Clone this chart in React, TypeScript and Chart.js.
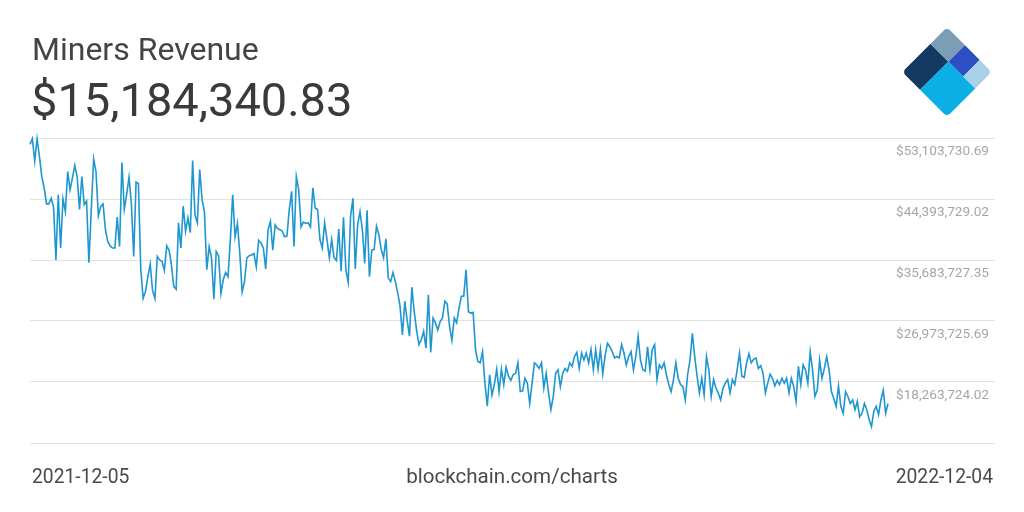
import React, { useEffect, useRef } from "react";
import { Chart, registerables } from "chart.js";

Chart.register(...registerables);

const TITLE = "Miners Revenue";
const CURRENT_VALUE = "$15,184,340.83";
const START_DATE = "2021-12-05";
const END_DATE = "2022-12-04";
const SOURCE = "blockchain.com/charts";

// Gridline values (USD); the lowest one carries no label
const Y_TICKS = [9553722.35, 18263724.02, 26973725.69, 35683727.35, 44393729.02, 53103730.69];

// Daily miners revenue, millions of USD, 2021-12-05 .. 2022-12-04 (365 days)
const REVENUE_M = [
  52.2, 53.0, 49.8, 53.0, 50.5, 47.6, 46.0, 43.7, 43.7, 44.5, 43.2, 35.7, 45.0, 37.4, 44.4, 42.6, 48.3, 45.7, 47.4, 49.2,
  47.6, 42.9, 47.6, 43.6, 44.1, 35.3, 42.9, 50.1, 48.3, 42.0, 43.3, 43.7, 40.0, 38.3, 37.7,
  37.4, 37.4, 41.8, 37.6, 49.6, 42.9, 45.0, 47.5, 43.8, 36.2, 46.8, 46.6, 34.3, 30.2, 31.2, 33.3, 35.1, 31.3, 30.2, 36.2,
  35.7, 35.5, 34.2, 37.7, 37.1, 35.0, 31.9, 31.5, 41.0, 37.4, 43.4, 39.8, 41.7, 39.6, 49.9, 42.1, 41.0,
  48.6, 44.3, 42.6, 34.3, 37.6, 36.0, 30.1, 36.9, 36.3, 30.9, 32.9, 33.9, 33.3, 38.6, 45.0, 39.0, 40.9, 36.7, 31.1, 32.6,
  36.0, 36.3, 36.4, 36.6, 34.7, 38.5, 38.1, 37.4, 34.4, 40.0, 41.2, 37.1, 40.7, 40.2, 40.0, 39.8, 39.0, 39.1,
  42.9, 45.5, 37.6, 47.6, 45.7, 40.4, 41.1, 40.9, 41.0, 40.4, 46.0, 43.1, 42.9, 38.6, 37.4, 41.0, 38.6, 36.0, 38.6, 36.0,
  35.6, 40.1, 34.1, 41.8, 34.3, 32.5, 41.9, 44.5, 34.4, 40.7, 42.6, 40.0, 35.2, 42.8, 33.3, 37.1, 37.2,
  40.5, 39.3, 37.2, 36.0, 38.7, 33.1, 32.6, 33.9, 32.6, 31.0, 29.1, 25.0, 29.8, 27.1, 24.8, 31.8, 28.3, 25.7, 23.6, 24.3,
  25.5, 23.1, 30.7, 22.5, 27.4, 26.7, 25.7, 26.9, 27.4, 29.8, 29.4, 26.2, 24.2, 27.4, 26.7, 28.8, 30.5,
  30.5, 34.3, 28.3, 28.1, 28.2, 22.9, 21.2, 21.0, 22.6, 18.1, 14.8, 19.3, 16.4, 17.9, 20.1, 16.9, 20.1, 17.9, 20.4, 19.1,
  18.5, 19.3, 19.5, 21.0, 16.9, 17.0, 18.8, 18.1, 15.2, 18.1, 21.0, 20.7, 20.2, 21.0, 17.4, 19.5, 16.7, 14.3,
  16.2, 19.5, 20.0, 17.6, 19.5, 20.2, 19.8, 21.0, 20.5, 21.9, 22.5, 20.2, 22.4, 21.4, 22.4, 21.0, 22.9, 20.0, 22.9, 20.1,
  22.9, 19.4, 22.1, 23.8, 23.3, 22.6, 21.7, 21.9, 21.7, 23.6, 22.4, 20.7, 21.9, 22.6, 20.0, 21.9, 24.8,
  21.4, 20.0, 19.8, 23.3, 20.0, 22.9, 23.6, 18.6, 20.7, 20.2, 21.0, 19.3, 17.9, 16.9, 18.6, 21.0, 18.8, 17.9, 17.6, 15.7,
  19.3, 21.4, 25.2, 21.9, 19.1, 16.7, 18.8, 16.4, 21.9, 20.0, 16.2, 18.6, 17.4, 16.7, 15.7, 17.4, 18.1, 18.6,
  16.7, 18.6, 17.9, 20.0, 22.4, 19.1, 18.9, 21.0, 22.3, 21.0, 21.5, 21.7, 20.2, 20.6, 19.5, 16.7, 18.1, 19.4, 18.8, 17.7,
  18.5, 17.9, 18.8, 18.1, 18.8, 16.7, 18.8, 17.6, 15.5, 20.5, 17.9, 20.7, 20.0, 18.1, 22.6, 20.0, 16.2,
  17.1, 21.4, 18.8, 20.2, 21.9, 20.0, 16.9, 15.9, 14.8, 17.7, 14.8, 13.8, 16.9, 16.2, 15.2, 15.7, 14.3, 15.5, 13.3, 13.8,
  15.2, 14.3, 12.9, 11.9, 14.1, 14.8, 13.6, 15.7, 17.1, 13.8, 15.18434083,
];

const LINE_COLOR = "#1e96cf";
const GRID_COLOR = "#e2e2e2";
const LABEL_COLOR = "#a6a6a6";
const X_MAX = 409.4; // grid continues right of the last day

const fmtUsd = (v: number) =>
  "$" + v.toLocaleString("en-US", { minimumFractionDigits: 2, maximumFractionDigits: 2 });

function Logo() {
  const a = 31.8;
  return (
    <svg width={90} height={90} viewBox="0 0 90 90" style={{ position: "absolute", left: 902, top: 27 }}>
      <defs>
        <clipPath id="dmd">
          <rect x={-a} y={-a} width={2 * a} height={2 * a} rx={5} ry={5} />
        </clipPath>
      </defs>
      <g transform="translate(45,45) rotate(45)" clipPath="url(#dmd)">
        <rect x={-a} y={-0.26 * a} width={0.8 * a} height={1.26 * a} fill="#123a62" />
        <rect x={-a} y={-a} width={0.8 * a} height={0.74 * a} fill="#7b9db6" />
        <rect x={-0.2 * a} y={-a} width={0.66 * a} height={0.74 * a} fill="#2d4fc4" />
        <rect x={0.46 * a} y={-a} width={0.54 * a} height={0.74 * a} fill="#a8d0e6" />
        <rect x={-0.2 * a} y={-0.26 * a} width={1.2 * a} height={1.26 * a} fill="#0bafe6" />
      </g>
    </svg>
  );
}

export default function App() {
  const canvasRef = useRef<HTMLCanvasElement | null>(null);

  useEffect(() => {
    if (!canvasRef.current) return;
    const chart = new Chart(canvasRef.current, {
      type: "line",
      data: {
        datasets: [
          {
            data: REVENUE_M.map((v, i) => ({ x: i, y: v * 1e6 })),
            borderColor: LINE_COLOR,
            borderWidth: 1.6,
            pointRadius: 0,
            tension: 0,
            fill: false,
            clip: false as any,
          },
        ],
      },
      options: {
        animation: false,
        responsive: false,
        maintainAspectRatio: false,
        layout: { padding: { left: 30, right: 29, top: 138, bottom: 69 } },
        plugins: { legend: { display: false }, tooltip: { enabled: false } },
        scales: {
          x: { type: "linear", display: false, min: 0, max: X_MAX },
          y: {
            type: "linear",
            position: "right",
            min: Y_TICKS[0],
            max: Y_TICKS[Y_TICKS.length - 1],
            afterBuildTicks: (s: any) => {
              s.ticks = Y_TICKS.map((v) => ({ value: v }));
            },
            grid: { color: GRID_COLOR, lineWidth: 1, drawTicks: false },
            border: { display: false },
            ticks: {
              mirror: true,
              padding: -6,
              labelOffset: 14,
              color: LABEL_COLOR,
              font: { family: "Roboto", size: 13.6 },
              callback: (v: any) => (Number(v) === Y_TICKS[0] ? "" : fmtUsd(Number(v))),
            },
          },
        },
      },
    });
    return () => chart.destroy();
  }, []);

  return (
    <div style={{ position: "absolute", left: 0, top: 0, width: 1024, height: 512, background: "#fff", fontFamily: "Roboto" }}>
      <canvas ref={canvasRef} width={1024} height={512} style={{ position: "absolute", left: 0, top: 0 }} />
      <div style={{ position: "absolute", left: 32, top: 32.6, fontSize: 32, lineHeight: "32px", color: "#444", whiteSpace: "nowrap" }}>
        {TITLE}
      </div>
      <div style={{ position: "absolute", left: 31, top: 75.6, fontSize: 47, lineHeight: "48px", color: "#3a3a3a", whiteSpace: "nowrap" }}>
        {CURRENT_VALUE}
      </div>
      <Logo />
      <div style={{ position: "absolute", left: 32, top: 466.7, fontSize: 19.3, lineHeight: "19px", color: "#4a4a4a" }}>{START_DATE}</div>
      <div style={{ position: "absolute", left: 0, width: 1024, textAlign: "center", top: 466, fontSize: 20.6, lineHeight: "20px", color: "#4a4a4a" }}>{SOURCE}</div>
      <div style={{ position: "absolute", right: 31, top: 466.7, fontSize: 19.3, lineHeight: "19px", color: "#4a4a4a" }}>{END_DATE}</div>
    </div>
  );
}
